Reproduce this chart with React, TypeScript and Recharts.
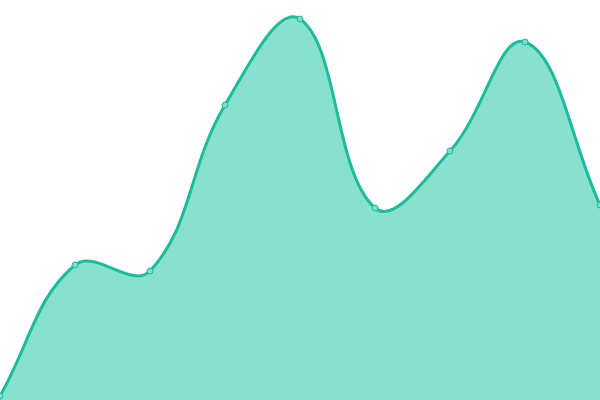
import React from 'react';
import { AreaChart, Area, XAxis, YAxis } from 'recharts';

const categories = ['A', 'B', 'C', 'D', 'E', 'F', 'G', 'H', 'I'];
const values = [4, 135, 129, 295, 381, 192, 249, 358, 195];

const data = categories.map((name, i) => ({ name, value: values[i] }));

// cardinal-style spline with tension, control points scaled by neighbour distances
const tensionCurve = (t: number) => (context: any) => {
    let xs: number[] = [];
    let ys: number[] = [];
    let line = NaN;
    return {
        areaStart() { line = 0; },
        areaEnd() { line = NaN; },
        lineStart() { xs = []; ys = []; },
        lineEnd() {
            const n = xs.length;
            if (n) {
                if (line) context.lineTo(xs[0], ys[0]);
                else context.moveTo(xs[0], ys[0]);
                const cpPrev: number[][] = [];
                const cpNext: number[][] = [];
                for (let i = 0; i < n; i++) {
                    const p = i > 0 ? i - 1 : i;
                    const q = i < n - 1 ? i + 1 : i;
                    const d01 = Math.hypot(xs[i] - xs[p], ys[i] - ys[p]);
                    const d12 = Math.hypot(xs[q] - xs[i], ys[q] - ys[i]);
                    let s01 = d01 / (d01 + d12);
                    let s12 = d12 / (d01 + d12);
                    if (isNaN(s01)) s01 = 0;
                    if (isNaN(s12)) s12 = 0;
                    const dx = xs[q] - xs[p];
                    const dy = ys[q] - ys[p];
                    cpPrev.push([xs[i] - t * s01 * dx, ys[i] - t * s01 * dy]);
                    cpNext.push([xs[i] + t * s12 * dx, ys[i] + t * s12 * dy]);
                }
                for (let i = 0; i < n - 1; i++) {
                    context.bezierCurveTo(cpNext[i][0], cpNext[i][1], cpPrev[i + 1][0], cpPrev[i + 1][1], xs[i + 1], ys[i + 1]);
                }
            }
            if (line || (line !== 0 && n === 1)) context.closePath();
            line = 1 - line;
        },
        point(x: number, y: number) { xs.push(+x); ys.push(+y); },
    };
};

const App: React.FC = () => {
    return (
        <div style={{ position: 'fixed', top: 0, left: 0, width: 600, height: 400, background: '#fff' }}>
            <AreaChart width={600} height={400} data={data} margin={{ top: 0, right: 0, left: 0, bottom: 0 }}>
                <XAxis dataKey="name" hide />
                <YAxis hide domain={[0, 400]} />
                <Area
                    type={tensionCurve(0.4) as any}
                    dataKey="value"
                    stroke="#1abc9c"
                    strokeWidth={3}
                    fill="#88e0cf"
                    fillOpacity={1}
                    dot={{ r: 3, stroke: '#1abc9c', strokeWidth: 1, fill: '#7cdcc8', fillOpacity: 1 }}
                    activeDot={false}
                    isAnimationActive={false}
                />
            </AreaChart>
        </div>
    );
};

export default App;
